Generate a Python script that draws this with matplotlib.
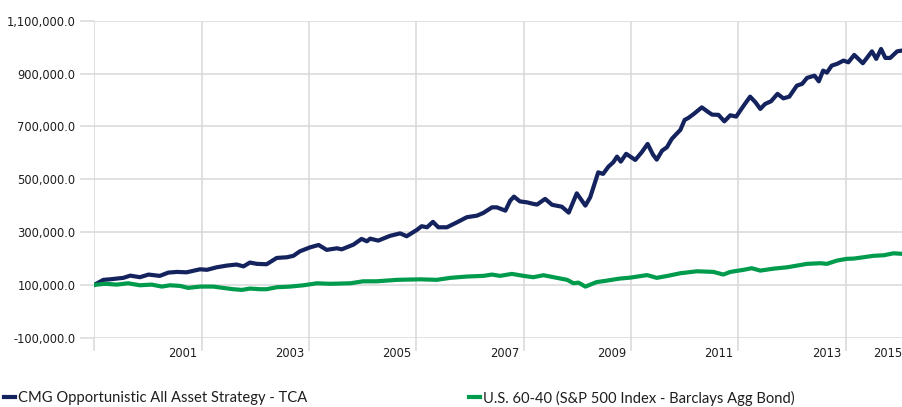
import matplotlib
matplotlib.use('Agg')
import matplotlib.pyplot as plt
from matplotlib.lines import Line2D
from matplotlib.ticker import FuncFormatter, FixedLocator
import numpy as np


# growth of 100,000 - decimal year / portfolio value
cmg_years = [1999.36, 1999.53, 1999.65, 1999.90, 2000.03, 2000.21, 2000.37, 2000.58, 2000.74, 2000.90,
             2001.08, 2001.33, 2001.46, 2001.64, 2001.83, 2002.01, 2002.14, 2002.26, 2002.39, 2002.57,
             2002.76, 2002.95, 2003.07, 2003.19, 2003.38, 2003.54, 2003.69, 2003.88, 2003.97, 2004.19,
             2004.34, 2004.44, 2004.50, 2004.65, 2004.87, 2005.06, 2005.18, 2005.37, 2005.46, 2005.56,
             2005.67, 2005.77, 2005.93, 2006.12, 2006.30, 2006.49, 2006.61, 2006.77, 2006.86, 2007.02,
             2007.11, 2007.18, 2007.29, 2007.42, 2007.54, 2007.61, 2007.76, 2007.89, 2008.07, 2008.20,
             2008.35, 2008.51, 2008.60, 2008.75, 2008.84, 2008.94, 2009.03, 2009.10, 2009.17, 2009.27,
             2009.44, 2009.56, 2009.67, 2009.77, 2009.84, 2009.94, 2010.03, 2010.12, 2010.22, 2010.28,
             2010.36, 2010.43, 2010.53, 2010.68, 2010.78, 2010.87, 2010.99, 2011.10, 2011.21, 2011.32,
             2011.46, 2011.58, 2011.68, 2011.77, 2011.86, 2011.97, 2012.09, 2012.20, 2012.31, 2012.45,
             2012.55, 2012.64, 2012.78, 2012.86, 2012.94, 2013.01, 2013.10, 2013.20, 2013.32, 2013.41,
             2013.52, 2013.68, 2013.85, 2013.93, 2014.02, 2014.10, 2014.19, 2014.32, 2014.41]
cmg_values = [100000, 119000, 121000, 126500, 135000, 129000, 139000, 134000, 146500, 149000,
              147500, 159000, 157000, 166500, 173000, 177000, 170000, 184500, 179500, 178000,
              202000, 204500, 210000, 227000, 242000, 251000, 232500, 238500, 234500, 252500,
              274000, 265000, 275000, 267500, 285500, 295000, 284000, 308000, 322000, 318000,
              338500, 318000, 318000, 337000, 356000, 362000, 372500, 393500, 393500, 381000,
              419000, 434000, 416000, 412500, 406500, 404000, 425500, 403000, 396000, 373500,
              446500, 400000, 431500, 526000, 520000, 547500, 564000, 585500, 566500, 596000,
              573000, 602000, 633500, 593000, 574000, 608000, 621000, 652500, 674000, 686500,
              724500, 732000, 747000, 772000, 757000, 744500, 743500, 719000, 742000, 737000,
              778500, 812500, 791000, 766000, 785000, 795000, 823000, 806000, 812500, 854000,
              861000, 883500, 892000, 870500, 911000, 903500, 930000, 936500, 949000, 942500,
              970500, 939000, 984000, 955500, 993000, 959000, 959000, 984000, 987000]

us6040_years = [1999.36, 1999.56, 1999.78, 1999.99, 2000.21, 2000.43, 2000.62, 2000.77, 2000.96, 2001.11,
                2001.33, 2001.58, 2001.76, 2001.95, 2002.11, 2002.26, 2002.45, 2002.57, 2002.76, 2003.01,
                2003.26, 2003.51, 2003.75, 2004.13, 2004.37, 2004.62, 2005.00, 2005.43, 2005.74, 2005.99,
                2006.30, 2006.61, 2006.77, 2006.92, 2007.14, 2007.36, 2007.54, 2007.73, 2007.98, 2008.17,
                2008.29, 2008.38, 2008.51, 2008.72, 2008.91, 2009.03, 2009.16, 2009.35, 2009.66, 2009.84,
                2010.03, 2010.28, 2010.59, 2010.90, 2011.08, 2011.21, 2011.46, 2011.61, 2011.77, 2012.02,
                2012.27, 2012.64, 2012.89, 2013.01, 2013.20, 2013.38, 2013.51, 2013.69, 2013.88, 2014.07,
                2014.25, 2014.41]
us6040_values = [100000, 104000, 101000, 106000, 98500, 101000, 93500, 98500, 96000, 88500,
                 93500, 93500, 88500, 83500, 81000, 86000, 83500, 83500, 91000, 93500,
                 98500, 106000, 104000, 106000, 113500, 113500, 119000, 121000, 119000, 126500,
                 131500, 134000, 139000, 134000, 141500, 134000, 129000, 136500, 126500, 119000,
                 106000, 108500, 93500, 110500, 116000, 120000, 124000, 127500, 137000, 126500,
                 133500, 144000, 151500, 149000, 139000, 149000, 157000, 163000, 154000, 161500,
                 166500, 179500, 182000, 179500, 192000, 198500, 199500, 204500, 210000, 212000,
                 219500, 217500]

series_names = ['CMG Opportunistic All Asset Strategy - TCA',
                'U.S. 60-40 (S&P 500 Index - Barclays Agg Bond)']

y_ticks = [-100000, 100000, 300000, 500000, 700000, 900000, 1100000]
year_labels = ['2001', '2003', '2005', '2007', '2009', '2011', '2013', '2015']
grid_years = [1999.36, 2001.36, 2003.36, 2005.36, 2007.36, 2009.36, 2011.36, 2013.36]

NAVY = '#14235E'
GREEN = '#009B4C'
GRID = '#D9D9D9'
TXT = '#1E1E1E'

fig = plt.figure(figsize=(9.02, 4.07), dpi=100)
ax = fig.add_axes([94.3 / 902, 1 - 337.7 / 407, (902 - 94.3) / 902, (337.7 - 20.7) / 407])

ax.plot(cmg_years, cmg_values, color=NAVY, lw=3.0, zorder=3, solid_joinstyle='round')
ax.plot(us6040_years, us6040_values, color=GREEN, lw=3.0, zorder=3, solid_joinstyle='round')

x_end = cmg_years[-1]
ax.set_xlim(cmg_years[0], x_end)
ax.set_ylim(-100000, 1100000)

# y axis
ax.set_yticks(y_ticks)
ax.yaxis.set_major_formatter(FuncFormatter(lambda v, p: f'{v:,.1f}'))
ax.tick_params(axis='y', length=10, color=GRID, width=1.1, pad=3.5, labelsize=8.3, labelcolor=TXT)
ax.grid(axis='y', which='major', color=GRID, lw=1.1)

# x axis: labels on year, gridlines/ticks on minor positions
label_pos = [int(y) for y in year_labels[:-1]] + [x_end]
ax.xaxis.set_major_locator(FixedLocator(label_pos))
ax.set_xticklabels(year_labels)
ax.xaxis.set_minor_locator(FixedLocator(grid_years))
ax.tick_params(axis='x', which='major', length=0, pad=6.5, labelsize=8.3, labelcolor=TXT)
ax.tick_params(axis='x', which='minor', length=9, color=GRID, width=1.1)
ax.grid(axis='x', which='minor', color=GRID, lw=1.1)
ax.get_xticklabels()[-1].set_horizontalalignment('right')

for s in ax.spines.values():
    s.set_visible(False)
ax.set_axisbelow(True)

# legend at bottom, two entries
leg_font = {'family': ['Lato', 'DejaVu Sans'], 'size': 10.6}
h1 = Line2D([], [], color=NAVY, lw=3)
h2 = Line2D([], [], color=GREEN, lw=3)
fig.legend([h1], [series_names[0]], loc='center left', bbox_to_anchor=(0.0, 0.022),
           frameon=False, prop=leg_font, handlelength=0.75, handletextpad=0.15,
           borderaxespad=0, borderpad=0.3, labelcolor=TXT)
fig.legend([h2], [series_names[1]], loc='center left', bbox_to_anchor=(465 / 902, 0.022),
           frameon=False, prop=leg_font, handlelength=0.75, handletextpad=0.15,
           borderaxespad=0, borderpad=0.3, labelcolor=TXT)

fig.savefig('out.png', dpi=100)
